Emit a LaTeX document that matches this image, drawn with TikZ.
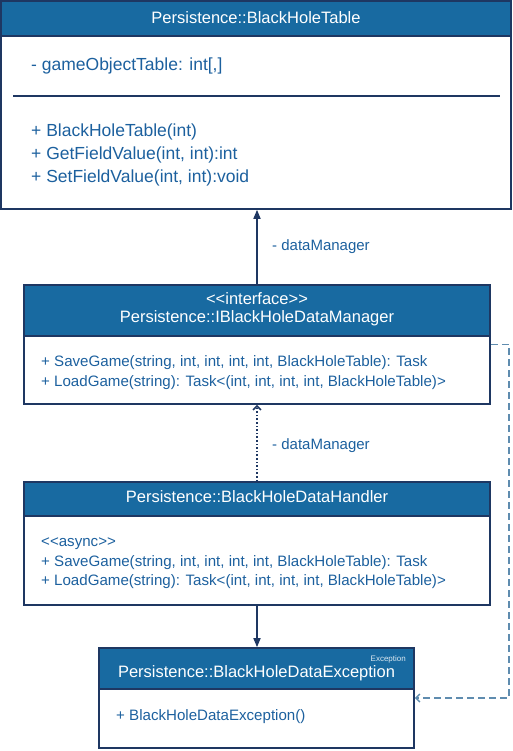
\documentclass[tikz,border=0pt]{standalone}
\usepackage{fontspec}
\setmainfont{Liberation Sans}
\usetikzlibrary{arrows.meta}
\definecolor{hdr}{RGB}{24,106,161}
\definecolor{bord}{RGB}{30,55,98}
\definecolor{txt}{RGB}{28,96,158}
\definecolor{dsh}{RGB}{95,140,175}
\tikzset{
  umlbox/.style={draw=bord, line width=1.6pt, rectangle, inner sep=0pt},
  hdrfill/.style={fill=hdr},
  hdrtxt/.style={text=white, font=\fontsize{16.5}{18}\selectfont, inner sep=0pt},
  bigtxt/.style={text=txt, font=\fontsize{17.5}{19}\selectfont, anchor=west, inner sep=0pt, yshift=-2pt},
  smtxt/.style={text=txt, font=\fontsize{15.1}{17}\selectfont, anchor=west, inner sep=0pt, yshift=-2pt},
  conn/.style={draw=bord, line width=1.6pt},
  lbl/.style={text=txt, font=\fontsize{15}{17}\selectfont, anchor=west, inner sep=0pt, yshift=-1pt}
}
\begin{document}
\begin{tikzpicture}[x=1pt,y=-1pt]
\useasboundingbox (0,0) rectangle (513,751);
% Box 1
\fill[hdrfill] (1,1) rectangle (511,36);
\node[umlbox, minimum width=510pt, minimum height=208pt] (t) at (256,105) {};
\draw[bord, line width=1.2pt] (1,36) -- (511,36);
\node[hdrtxt] (th) at (256,17.5) {Persistence::BlackHoleTable};
\node[bigtxt] (ta) at (31,64) {- gameObjectTable: int[,]};
\draw[bord, line width=1.2pt] (13,96) -- (500,96);
\node[bigtxt] (tm1) at (31,130) {+ BlackHoleTable(int)};
\node[bigtxt] (tm2) at (31,153) {+ GetFieldValue(int, int):int};
\node[bigtxt] (tm3) at (31,176) {+ SetFieldValue(int, int):void};
% Box 2
\fill[hdrfill] (24,285) rectangle (490,336);
\node[umlbox, minimum width=466pt, minimum height=119pt] (i) at (257,344.5) {};
\draw[bord, line width=1.2pt] (24,336) -- (490,336);
\node[hdrtxt] (ih1) at (257,299) {<{}<interface>{}>};
\node[hdrtxt] (ih2) at (257,318) {Persistence::IBlackHoleDataManager};
\node[smtxt] (im1) at (41,361) {+ SaveGame(string, int, int, int, int, BlackHoleTable): Task};
\node[smtxt] (im2) at (41,381) {+ LoadGame(string): Task<(int, int, int, int, BlackHoleTable)>};
% Box 3
\fill[hdrfill] (24,482) rectangle (490,516);
\node[umlbox, minimum width=466pt, minimum height=123pt] (h) at (257,543.5) {};
\draw[bord, line width=1.2pt] (24,516) -- (490,516);
\node[hdrtxt] (hh) at (257,497) {Persistence::BlackHoleDataHandler};
\node[smtxt] (hs) at (41,542) {<{}<async>{}>};
\node[smtxt] (hm1) at (41,561) {+ SaveGame(string, int, int, int, int, BlackHoleTable): Task};
\node[smtxt] (hm2) at (41,580) {+ LoadGame(string): Task<(int, int, int, int, BlackHoleTable)>};
% Box 4
\fill[hdrfill] (99,648) rectangle (414,689);
\node[umlbox, minimum width=315pt, minimum height=100pt] (e) at (256.5,698) {};
\draw[bord, line width=1.2pt] (99,689) -- (414,689);
\node[text=white!85!hdr, font=\fontsize{8}{9}\selectfont, anchor=east, inner sep=0pt] (es) at (406,659) {Exception};
\node[hdrtxt] (eh) at (256.5,673) {Persistence::BlackHoleDataException};
\node[smtxt] (em1) at (116,715) {+ BlackHoleDataException()};
% connectors
\draw[conn, -{Triangle[length=9pt, width=7pt]}] (i.north -| 257,0) -- (t.south -| 257,0);
\node[lbl] (l1) at (272,246) {- dataManager};
\draw[conn, dotted, -{Straight Barb[length=4pt, width=8pt]}] (h.north) -- (i.south);
\node[lbl] (l2) at (272,445) {- dataManager};
\draw[conn, -{Triangle[length=9pt, width=7pt]}] (h.south) -- (e.north -| h.south);
\coordinate (d1) at (509,344.5);
\coordinate (d2) at (509,698);
\draw[dsh, line width=1.4pt, dash pattern=on 7pt off 4pt, -{Straight Barb[length=4pt, width=8pt]}] (i.east) -- (d1) -- (d2) -- (e.east);
\end{tikzpicture}
\end{document}
